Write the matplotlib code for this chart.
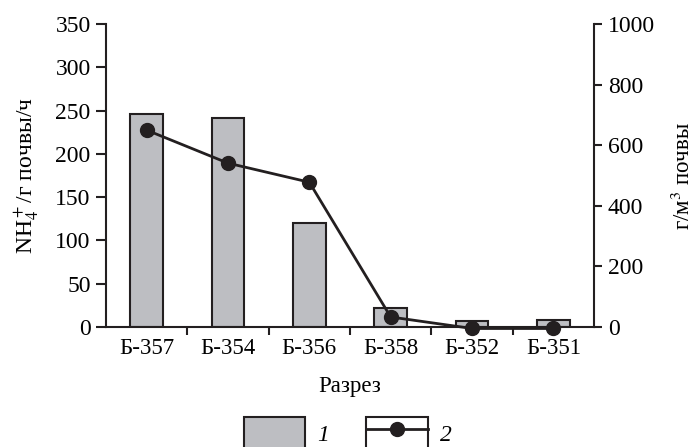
import numpy as np
import matplotlib.pyplot as plt
from matplotlib.patches import Rectangle
from matplotlib.lines import Line2D
from matplotlib.legend_handler import HandlerTuple

plt.rcParams['font.family'] = ['Liberation Serif', 'DejaVu Serif']
plt.rcParams['mathtext.fontset'] = 'stix'

sites = ['Б-357', 'Б-354', 'Б-356', 'Б-358', 'Б-352', 'Б-351']
activity = [246, 241, 120, 22, 7, 8]          # NH4+/г почвы/ч
mass = [650, 541, 478, 33, -5, -5]            # г/м3 почвы

bar_color = '#bdbec2'
ink = '#231f20'

fig = plt.figure(figsize=(6.95, 4.47), dpi=100)
ax = fig.add_axes([0.1525, 0.2685, 0.7022, 0.6775])
x = np.arange(len(sites))

ax.bar(x, activity, width=0.4, color=bar_color, edgecolor=ink, linewidth=1.5)
ax.set_xlim(-0.5, len(sites) - 0.5)
ax.set_ylim(0, 350)
ax.set_yticks(range(0, 351, 50))
ax.set_xticks(x)
ax.set_xticklabels(sites, fontsize=16.5)
ax.set_xticks(np.arange(0.5, len(sites) - 0.5), minor=True)
ax.tick_params(axis='x', which='major', length=0, pad=8)
ax.tick_params(axis='x', which='minor', length=6, width=1.5, color=ink)
ax.tick_params(axis='y', length=7, width=1.5, color=ink, labelsize=17, pad=4)
ax.spines['top'].set_visible(False)
ax.spines['right'].set_visible(False)
for s in ('left', 'bottom'):
    ax.spines[s].set_linewidth(1.5)
    ax.spines[s].set_color(ink)
ax.set_ylabel(r'NH$_4^+$/г почвы/ч', fontsize=17, labelpad=10)
ax.set_xlabel('Разрез', fontsize=16.5, labelpad=12)

ax2 = ax.twinx()
ax2.plot(x, mass, color=ink, linewidth=2, marker='o', markersize=10, clip_on=False)
ax2.set_ylim(0, 1000)
ax2.set_yticks(range(0, 1001, 200))
ax2.tick_params(axis='y', length=6, width=1.5, color=ink, labelsize=17, pad=4)
for s in ('top', 'left', 'bottom'):
    ax2.spines[s].set_visible(False)
ax2.spines['right'].set_linewidth(1.5)
ax2.spines['right'].set_color(ink)
ax2.set_ylabel(r'г/м$^3$ почвы', fontsize=16.5, labelpad=12)

# legend: gray box and a line-with-marker inside its own frame
h1 = Rectangle((0, 0), 1, 1, facecolor=bar_color, edgecolor=ink, linewidth=1.5)
frame = Rectangle((0, 0), 1, 1, facecolor='white', edgecolor=ink, linewidth=1.5)
h2 = Line2D([], [], color=ink, linewidth=2, marker='o', markersize=10)
fig.legend([h1, (frame, h2)], ['1', '2'], loc='upper center',
           bbox_to_anchor=(0.5, 0.068), ncol=2, frameon=False,
           handlelength=2.6, handleheight=1.8, columnspacing=1.6,
           handletextpad=0.5, borderpad=0, borderaxespad=0,
           prop={'style': 'italic', 'size': 17},
           handler_map={tuple: HandlerTuple(ndivide=1)})

fig.savefig('out.png', dpi=100)
